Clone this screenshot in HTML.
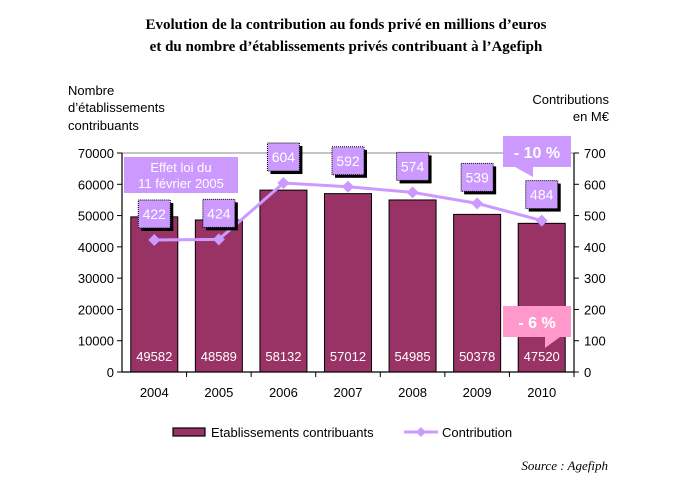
<!DOCTYPE html>
<html><head><meta charset="utf-8"><style>
body{margin:0;background:#fff;}
svg{display:block;font-family:"Liberation Sans",Arial,sans-serif;}
</style></head><body>
<svg id="c" width="693" height="497" viewBox="0 0 693 497">
<text x="346" y="29" text-anchor="middle" font-family="Liberation Serif,serif" font-weight="bold" font-size="15">Evolution de la contribution au fonds privé en millions d’euros</text>
<text x="346" y="51" text-anchor="middle" font-family="Liberation Serif,serif" font-weight="bold" font-size="15">et du nombre d’établissements privés contribuant à l’Agefiph</text>
<text font-size="13"><tspan x="68" y="95">Nombre</tspan><tspan x="68" y="112">d’établissements</tspan><tspan x="68" y="130">contribuants</tspan></text>
<text font-size="13" text-anchor="end"><tspan x="609" y="104">Contributions</tspan><tspan x="609" y="121">en M€</tspan></text>
<g id="g"></g>
<rect x="173" y="428" width="32" height="8" fill="#993366" stroke="#000" stroke-width="1.2"/>
<text x="211" y="437" font-size="13">Etablissements contribuants</text>
<line x1="404" y1="432" x2="438" y2="432" stroke="#cc99ff" stroke-width="3"/>
<path d="M421 427 L426 432 L421 437 L416 432Z" fill="#cc99ff"/>
<text x="442" y="437" font-size="13">Contribution</text>
<text x="608" y="470" text-anchor="end" font-family="Liberation Serif,serif" font-style="italic" font-size="13">Source : Agefiph</text>
</svg>
<script>
const categories=["2004","2005","2006","2007","2008","2009","2010"];
const establishments=[49582,48589,58132,57012,54985,50378,47520];
const contributions=[422,424,604,592,574,539,484];
const leftTicks=[0,10000,20000,30000,40000,50000,60000,70000];
const rightTicks=[0,100,200,300,400,500,600,700];
const NS="http://www.w3.org/2000/svg";
const g=document.getElementById('g');
const X0=122,X1=574,Y0=372,Y1=153;
const step=(X1-X0)/categories.length;
const xc=i=>X0+step*(i+0.5);
const yL=v=>Y0-(v/70000)*(Y0-Y1);
const yR=v=>Y0-(v/700)*(Y0-Y1);
function mk(t,a,txt){const e=document.createElementNS(NS,t);for(const k in a)e.setAttribute(k,a[k]);if(txt!==undefined)e.textContent=txt;g.appendChild(e);return e;}
let e;
e=mk('line',{x1:X0,y1:Y1,x2:X1,y2:Y1,stroke:'#888','stroke-width':1});


categories.forEach((c,i)=>{
  const w=47,y=yL(establishments[i]);
  e=mk('rect',{x:xc(i)-w/2,y:y,width:w,height:Y0-y,fill:'#993366',stroke:'#000','stroke-width':1});
  
  
  e=mk('text',{x:xc(i),y:361,'text-anchor':'middle','font-size':13,fill:'#fff'},String(establishments[i]));
  
  
  e=mk('text',{x:xc(i),y:397,'text-anchor':'middle','font-size':13},c);
  
  
  e=mk('line',{x1:X0+step*(i+1),y1:Y0,x2:X0+step*(i+1),y2:Y0+5,stroke:'#000'});
  
  
});
e=mk('line',{x1:X0,y1:Y1,x2:X0,y2:Y0,stroke:'#000','stroke-width':1.2});


e=mk('line',{x1:X1,y1:Y1,x2:X1,y2:Y0,stroke:'#000','stroke-width':1.2});


e=mk('line',{x1:X0,y1:Y0,x2:X1,y2:Y0,stroke:'#000','stroke-width':1.2});


leftTicks.forEach(v=>{
  const y=yL(v);
  e=mk('line',{x1:X0-5,y1:y,x2:X0,y2:y,stroke:'#000'});
  
  
  e=mk('text',{x:X0-8,y:y+5,'text-anchor':'end','font-size':13},String(v));
  
  
});
rightTicks.forEach(v=>{
  const y=yR(v);
  e=mk('line',{x1:X1,y1:y,x2:X1+5,y2:y,stroke:'#000'});
  
  
  e=mk('text',{x:X1+10,y:y+5,'font-size':13},String(v));
  
  
});
const pts=contributions.map((v,i)=>xc(i)+','+yR(v)).join(' ');
e=mk('polyline',{points:pts,fill:'none',stroke:'#cc99ff','stroke-width':3});


contributions.forEach((v,i)=>{
  const x=xc(i),y=yR(v);
  e=mk('path',{d:`M${x} ${y-6} L${x+6} ${y} L${x} ${y+6} L${x-6} ${y}Z`,fill:'#cc99ff'});
  
  
  const bx=x-16,by=y-40;
  e=mk('rect',{x:bx+3,y:by+3,width:32,height:28,fill:'#000'});
  
  
  e=mk('rect',{x:bx,y:by,width:32,height:28,fill:'#cc99ff',stroke:'#000','stroke-dasharray':'1,1'});
  
  
  e=mk('text',{x:x,y:by+19,'text-anchor':'middle','font-size':14,fill:'#fff'},String(v));
  
  
});
e=mk('rect',{x:124,y:157,width:114,height:36,fill:'#cc99ff'});


e=mk('text',{x:181,y:172,'text-anchor':'middle','font-size':13,fill:'#fff'},'Effet loi du');


e=mk('text',{x:181,y:188,'text-anchor':'middle','font-size':13,fill:'#fff'},'11 février 2005');


e=mk('path',{d:'M503 136 H571 V167 H533 V177 L515 167 H503Z',fill:'#cc99ff'});


e=mk('text',{x:537,y:158,'text-anchor':'middle','font-size':16,'font-weight':'bold',fill:'#fff'},'- 10 %');


e=mk('path',{d:'M503 306 H571 V337 H560 L545 348 V337 H503Z',fill:'#ff99cc'});


e=mk('text',{x:537,y:328,'text-anchor':'middle','font-size':16,'font-weight':'bold',fill:'#fff'},'- 6 %');


</script>
</body></html>
